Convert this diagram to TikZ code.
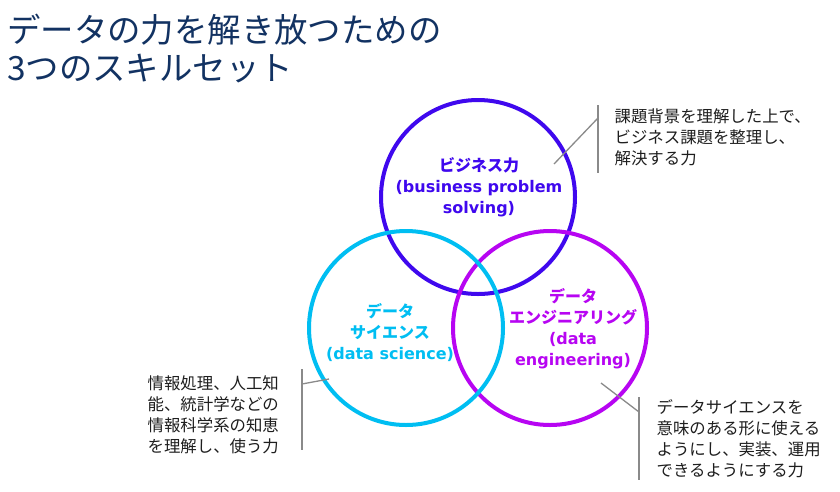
\documentclass[tikz,border=0pt]{standalone}
\usepackage{fontspec}
\setmainfont{DejaVu Sans}
\newfontfamily\jp{Noto Sans CJK JP}
\usepackage{tikz}
\definecolor{titlecol}{HTML}{123262}
\definecolor{bizcol}{HTML}{3F08EE}
\definecolor{scicol}{HTML}{00BEF2}
\definecolor{engcol}{HTML}{B705F2}
\definecolor{notecol}{HTML}{1E1E1E}
\definecolor{linecol}{HTML}{8A8A8A}
\tikzset{
  ring/.style={circle,minimum size=194pt,line width=4pt,inner sep=0pt},
  skill/.style={align=center,inner sep=0pt,font=\fontsize{16}{21}\selectfont\bfseries},
  note/.style={align=left,inner sep=0pt,text=notecol,font=\jp\fontsize{16.4}{21}\selectfont},
  callout/.style={draw=linecol,line width=1.3pt}
}

\begin{document}
\begin{tikzpicture}[x=1pt,y=-1pt]
    \useasboundingbox[fill=white] (0,0) rectangle (840,491);

    \draw node at (7,49)[name=title,anchor=west,align=left,inner sep=0pt,text=titlecol,
      font=\jp\fontsize{33.4}{38}\selectfont]{データの力を解き放つための\\3つのスキルセット};

    \draw node at (478,197)[name=biz,ring,draw=bizcol]{};
    \draw node at (550,328)[name=eng,ring,draw=engcol]{};
    \draw node at (406,328)[name=sci,ring,draw=scicol]{};

    \draw node at (479,187)[name=bizT,skill,text=bizcol]{{\jp ビジネス力}\\(business problem\\solving)};
    \draw node at (390,333)[name=sciT,skill,text=scicol]{{\jp データ}\\{\jp サイエンス}\\(data science)};
    \draw node at (573,329)[name=engT,skill,text=engcol]{{\jp データ}\\{\jp エンジニアリング}\\(data\\engineering)};

    \begin{scope}[callout]
    \draw node at (614,137)[name=bizN,note,anchor=west]{課題背景を理解した上で、\\ビジネス課題を整理し、\\解決する力};
    \draw coordinate (bizA) at (598,105) coordinate (bizB) at (598,173)
          coordinate (bizK) at (598,118) coordinate (bizP) at (554,164);
    \draw (bizA) -- (bizB);
    \draw (bizK) -- (bizP);

    \draw node at (147,415)[name=sciN,note,anchor=west]{情報処理、人工知\\能、統計学などの\\情報科学系の知恵\\を理解し、使う力};
    \draw coordinate (sciA) at (302,369) coordinate (sciB) at (302,450)
          coordinate (sciK) at (302,384) coordinate (sciP) at (329,379);
    \draw (sciA) -- (sciB);
    \draw (sciK) -- (sciP);

    \draw node at (656,439)[name=engN,note,anchor=west]{データサイエンスを\\意味のある形に使える\\ようにし、実装、運用\\できるようにする力};
    \draw coordinate (engA) at (639,397) coordinate (engB) at (639,480)
          coordinate (engK) at (639,412) coordinate (engP) at (601,383);
    \draw (engA) -- (engB);
    \draw (engK) -- (engP);
    \end{scope}
  \end{tikzpicture}
\end{document}
